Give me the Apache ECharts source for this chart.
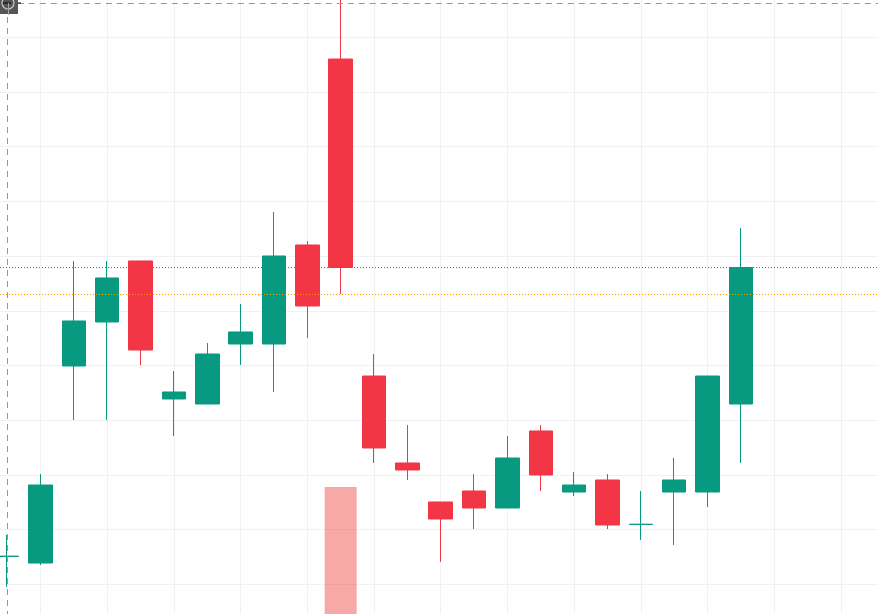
<!DOCTYPE html>
<html>
<head>
<meta charset="utf-8">
<style>html,body{margin:0;padding:0;background:#fff;overflow:hidden}#c{width:878px;height:614px}</style>
<script src="https://cdn.jsdelivr.net/npm/echarts@6/dist/echarts.min.js"></script>
</head>
<body>
<div id="c"></div>
<script>
const opens  = [105.10,103.89,139.91,147.95,159.11,133.88,132.96,143.93,143.93,162.03,196.03,138.08,122.18,115.05,117.06,113.95,128.03,116.87,119.07,110.95,116.87,116.87,132.96];
const closes = [105.14,118.15,148.14,156.00,142.83,135.16,142.10,146.13,160.02,150.88,157.92,124.92,120.90,111.94,113.95,123.09,119.98,118.15,110.84,110.97,119.07,138.08,157.92];
const lows   = [ 99.51,103.53,130.04,130.04,140.09,127.11,132.96,140.09,135.16,145.03,153.07,122.18,119.07,104.08,110.11,113.95,117.06,116.14,110.11,108.10,107.18,114.13,122.18];
const highs  = [109.01,120.16,159.11,159.11,159.11,139.00,144.11,151.24,168.06,162.76,208.65,142.10,129.12,115.05,120.16,127.11,129.12,120.53,120.16,117.06,123.09,138.08,165.14];
const volumeIndex = 10;
const volumeValue = 23.16;
const priceLastClose = 157.92;
const priceOrangeLine = 152.98;
const crosshairPrice = 206.18;
const leadingSlots = 1;
const totalSlots = 29;

const categories = Array.from({length: totalSlots}, (_, i) => String(i));
const candleData = categories.map((_, i) => {
  const k = i - leadingSlots;
  return k >= 0 && k < opens.length ? [opens[k], closes[k], lows[k], highs[k]] : ['-', '-', '-', '-'];
});
const volumeData = categories.map((_, i) => (i - leadingSlots === volumeIndex ? volumeValue : '-'));
const crossColor = '#9598a1';

const chart = echarts.init(document.getElementById('c'), null, {renderer: 'canvas'});
chart.setOption({
  animation: false,
  backgroundColor: '#ffffff',
  grid: {left: -26.2, right: -29.6, top: -17.4, bottom: -25, containLabel: false, outerBoundsMode: 'none'},
  xAxis: {
    type: 'category', data: categories, boundaryGap: false,
    axisLine: {show: false}, axisTick: {show: false}, axisLabel: {show: false},
    splitLine: {show: true, interval: (i) => i % 2 === 0, lineStyle: {color: '#f0f1f3', width: 1}}
  },
  yAxis: [
    {type: 'value', min: 90, max: 210, interval: 10, scale: true,
     axisLine: {show: false}, axisTick: {show: false}, axisLabel: {show: false},
     splitLine: {show: true, lineStyle: {color: '#f0f1f3', width: 1}}},
    {type: 'value', min: 0, max: 100, show: false, splitLine: {show: false}}
  ],
  series: [
    {type: 'bar', name: 'Volume', yAxisIndex: 1, data: volumeData, barWidth: 32, z: 1,
     itemStyle: {color: 'rgba(239,83,80,0.5)'}, silent: true},
    {type: 'candlestick', name: 'Price', data: candleData, barWidth: 24, z: 2,
     itemStyle: {color: '#089981', color0: '#F23645', borderColor: '#089981', borderColor0: '#F23645', borderWidth: 1},
     markLine: {
       silent: true, symbol: 'none', animation: false, z: 5,
       label: {show: false},
       data: [
         {yAxis: priceLastClose, lineStyle: {color: '#089981', type: [1, 2], dashOffset: 0.8, width: 1}},
         {yAxis: priceOrangeLine, lineStyle: {color: '#ff9800', type: [1, 2], dashOffset: 0.8, width: 1}},
         {yAxis: crosshairPrice, lineStyle: {color: crossColor, type: [6, 5], width: 1}},
         {xAxis: categories[leadingSlots], lineStyle: {color: crossColor, type: [6, 5], width: 1}}
       ]
     }}
  ],
  graphic: [
    {type: 'rect', z: 100, shape: {x: 0, y: 0, width: 18, height: 14}, style: {fill: '#555555'}},
    {type: 'circle', z: 101, shape: {cx: 8, cy: 3, r: 6}, style: {fill: 'none', stroke: '#c8c8c8', lineWidth: 1.2}},
    {type: 'line', z: 102, shape: {x1: 3, y1: 3, x2: 11, y2: 3}, style: {stroke: '#000', lineWidth: 1}},
    {type: 'line', z: 102, shape: {x1: 18, y1: 3, x2: 21, y2: 3}, style: {stroke: '#000', lineWidth: 1}},
    {type: 'line', z: 102, shape: {x1: 8.5, y1: 3, x2: 8.5, y2: 15}, style: {stroke: '#aaa', lineWidth: 1}}
  ]
});
</script>
</body>
</html>
